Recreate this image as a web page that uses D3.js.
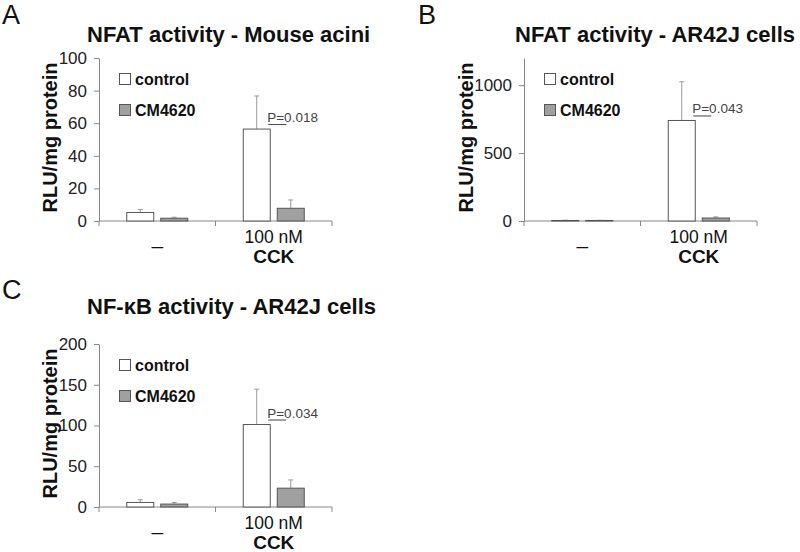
<!DOCTYPE html>
<html>
<head>
<meta charset="utf-8">
<script src="https://cdn.jsdelivr.net/npm/d3@7/dist/d3.min.js"></script>
<style>
  body { margin: 0; background: #fff; }
  text { font-family: "Liberation Sans", Arial, sans-serif; }
</style>
</head>
<body>
<div id="chart"></div>
<script>
// categories
var groups = ["\u2013", "100 nM"];
var series = ["control", "CM4620"];
var treatment = "CCK";

// A: NFAT, mouse acini
var aciniControl = [5.2, 56.4];
var aciniControlErr = [1.9, 20.3];
var aciniCM4620 = [1.7, 7.8];
var aciniCM4620Err = [0.6, 5.1];
var aciniTicks = [0, 20, 40, 60, 80, 100];

// B: NFAT, AR42J cells
var nfatControl = [4, 740];
var nfatControlErr = [2, 285];
var nfatCM4620 = [4, 22];
var nfatCM4620Err = [1, 8];
var nfatTicks = [0, 500, 1000];

// C: NF-kB, AR42J cells
var nfkbControl = [5.6, 101.2];
var nfkbControlErr = [3.3, 43.4];
var nfkbCM4620 = [3.6, 23.1];
var nfkbCM4620Err = [2.0, 10.1];
var nfkbTicks = [0, 50, 100, 150, 200];

var titles = ["NFAT activity - Mouse acini", "NFAT activity - AR42J cells", "NF-\u03baB activity - AR42J cells"];
var pLabels = ["P=0.018", "P=0.043", "P=0.034"];
var yTitle = "RLU/mg protein";

var colors = {control: "#ffffff", CM4620: "#a0a0a0"};

var svg = d3.select("#chart").append("svg")
    .attr("width", 800)
    .attr("height", 552);

var panels = [
    {letter: "A", dx: 0, dy: 0, max: 100, ticks: aciniTicks, title: titles[0], p: pLabels[0],
     mean: [aciniControl, aciniCM4620], err: [aciniControlErr, aciniCM4620Err],
     letterX: 2, letterY: 24, titleX: 87, titleY: 41.5, yLabelX: 57},
    {letter: "B", dx: 425, dy: 0, max: 1200, ticks: nfatTicks, title: titles[1], p: pLabels[1],
     mean: [nfatControl, nfatCM4620], err: [nfatControlErr, nfatCM4620Err],
     letterX: -7, letterY: 24, titleX: 90, titleY: 41.5, yLabelX: 48},
    {letter: "C", dx: 0, dy: 286, max: 200, ticks: nfkbTicks, title: titles[2], p: pLabels[2],
     mean: [nfkbControl, nfkbCM4620], err: [nfkbControlErr, nfkbCM4620Err],
     letterX: 2, letterY: 13, titleX: 87, titleY: 28, yLabelX: 57}
];

panels.forEach(drawPanel);

function drawPanel(p) {
    var g = svg.append("g").attr("transform", "translate(" + p.dx + "," + p.dy + ")");

    var y = d3.scaleLinear().domain([0, p.max]).range([221, 58]);
    var x0 = d3.scaleBand().domain(groups).range([99, 332]);
    var bw = x0.bandwidth();
    var x1 = d3.scaleBand().domain(series)
        .range([bw / 2 - 30.5, bw / 2 + 30.5])
        .paddingInner(0.206);

    // panel letter
    g.append("text")
        .attr("x", p.letterX).attr("y", p.letterY)
        .style("font-size", "27px")
        .style("fill", "#111")
        .text(p.letter);

    // title
    g.append("text")
        .attr("x", p.titleX).attr("y", p.titleY)
        .style("font-size", "22px")
        .style("font-weight", "bold")
        .style("fill", "#111")
        .text(p.title);

    // y axis
    var yAxis = g.append("g")
        .attr("transform", "translate(99,0)")
        .call(d3.axisLeft(y).tickValues(p.ticks).tickFormat(d3.format("d"))
            .tickSize(5).tickSizeOuter(0).tickPadding(7));
    yAxis.select(".domain").style("stroke", "#888");
    yAxis.selectAll(".tick line").style("stroke", "#888");
    yAxis.selectAll(".tick text")
        .style("font-size", "17px")
        .style("font-family", "'Liberation Sans', Arial, sans-serif")
        .style("fill", "#222");

    // y title
    g.append("text")
        .attr("transform", "translate(" + p.yLabelX + "," + 137.5 + ") rotate(-90)")
        .attr("text-anchor", "middle")
        .style("font-size", "20px")
        .style("font-weight", "bold")
        .style("fill", "#111")
        .text(yTitle);

    // x axis line with ticks at group boundaries
    var xr = x0.range();
    g.append("line")
        .attr("x1", xr[0]).attr("x2", xr[1])
        .attr("y1", y(0)).attr("y2", y(0))
        .style("stroke", "#888");
    var bounds = groups.map(function(d) { return x0(d); }).concat([xr[1]]);
    g.selectAll(".xtick").data(bounds).enter().append("line")
        .attr("x1", function(d) { return d; }).attr("x2", function(d) { return d; })
        .attr("y1", y(0)).attr("y2", y(0) + 5)
        .style("stroke", "#888");

    // bars
    var rows = [];
    groups.forEach(function(grp, gi) {
        series.forEach(function(s, si) {
            rows.push({group: grp, series: s, value: p.mean[si][gi], err: p.err[si][gi]});
        });
    });
    var bars = g.selectAll(".bar").data(rows).enter().append("g")
        .attr("transform", function(d) { return "translate(" + (x0(d.group) + x1(d.series)) + ",0)"; });

    // error bars (upper only), drawn first so bar outline sits over them
    bars.append("line")
        .attr("x1", x1.bandwidth() / 2).attr("x2", x1.bandwidth() / 2)
        .attr("y1", function(d) { return y(d.value); })
        .attr("y2", function(d) { return y(d.value + d.err); })
        .style("stroke", "#999");
    bars.append("line")
        .attr("x1", x1.bandwidth() / 2 - 2.5).attr("x2", x1.bandwidth() / 2 + 2.5)
        .attr("y1", function(d) { return y(d.value + d.err); })
        .attr("y2", function(d) { return y(d.value + d.err); })
        .style("stroke", "#999");

    bars.append("rect")
        .attr("x", 0)
        .attr("y", function(d) { return y(d.value); })
        .attr("width", x1.bandwidth())
        .attr("height", function(d) { return y(0) - y(d.value); })
        .style("fill", function(d) { return colors[d.series]; })
        .style("stroke", "#555");

    // p value over the stimulated pair
    var top = rows[2];
    var px = x0(groups[1]) + x1(series[0]) + x1.bandwidth() - 3;
    var py = y(top.value) - 7;
    g.append("text")
        .attr("x", px).attr("y", py)
        .style("font-size", "13.5px")
        .style("fill", "#444")
        .text(p.p);
    g.append("line")
        .attr("x1", px + 1).attr("x2", px + 19)
        .attr("y1", py + 2.5).attr("y2", py + 2.5)
        .style("stroke", "#444");

    // legend
    series.forEach(function(s, i) {
        g.append("rect")
            .attr("x", 119.5).attr("y", 73.5 + i * 31)
            .attr("width", 11).attr("height", 11)
            .style("fill", colors[s])
            .style("stroke", "#555");
        g.append("text")
            .attr("x", 135).attr("y", 85 + i * 31)
            .style("font-size", "16px")
            .style("font-weight", "bold")
            .style("fill", "#111")
            .text(s);
    });

    // group labels
    groups.forEach(function(grp, gi) {
        var cx = x0(grp) + bw / 2;
        var t = g.append("text")
            .attr("x", cx)
            .attr("text-anchor", "middle")
            .style("fill", "#111")
            .text(grp);
        if (gi === 0) {
            t.attr("y", 253).style("font-size", "21px");
        } else {
            t.attr("y", 243).style("font-size", "17.5px");
        }
    });
    g.append("text")
        .attr("x", x0(groups[1]) + bw / 2).attr("y", 263)
        .attr("text-anchor", "middle")
        .style("font-size", "19px")
        .style("font-weight", "bold")
        .style("fill", "#111")
        .text(treatment);
}
</script>
</body>
</html>
